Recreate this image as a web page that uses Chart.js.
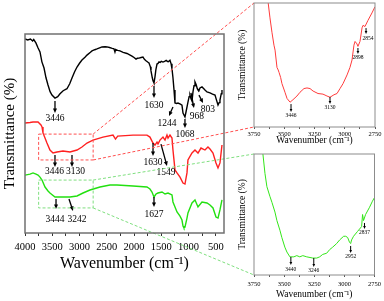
<!DOCTYPE html>
<html>
<head>
<meta charset="utf-8">
<script src="https://cdn.jsdelivr.net/npm/chart.js@4.4.1/dist/chart.umd.min.js"></script>
<style>
  html, body { margin: 0; padding: 0; background: #fff; }
  #wrap { position: relative; width: 384px; height: 301px; overflow: hidden; }
  canvas { position: absolute; }
</style>
</head>
<body>
<div id="wrap">
  <canvas id="main" width="384" height="301" style="left:0;top:0;width:384px;height:301px"></canvas>
  <canvas id="inset1" width="154" height="150" style="left:230px;top:0;width:154px;height:150px"></canvas>
  <canvas id="inset2" width="154" height="151" style="left:230px;top:150px;width:154px;height:151px"></canvas>
</div>
<script>
// ---------- data (wavenumber cm-1, transmittance, arbitrary offset units) ----------
const blackSpectrum = [[4000,97.5],[3950,97.0],[3900,97.5],[3860,96.5],[3840,97.2],[3800,95.5],[3760,93],[3725,91],[3690,86],[3651,82.9],[3615,78],[3578,74.4],[3540,71],[3505,69.3],[3450,67.8],[3400,68.5],[3358,70],[3300,71.5],[3230,72.5],[3180,75],[3138,77.9],[3090,81],[3046,83.4],[3000,85.3],[2955,86.9],[2900,88.3],[2863,89.4],[2800,90.8],[2771,91.5],[2720,92.1],[2680,92.5],[2620,93.2],[2588,93.5],[2530,93.6],[2496,93.5],[2450,93.2],[2400,92.8],[2368,92.6],[2350,91.0],[2338,92.2],[2300,91.8],[2258,91.5],[2200,90.8],[2129,90.2],[2080,89.5],[2038,88.9],[2000,88.2],[1964,87.4],[1940,87.8],[1909,87.9],[1870,88.2],[1836,88.4],[1810,87.3],[1781,86.6],[1750,85.9],[1726,85.4],[1700,83.5],[1689,81.5],[1665,78],[1652,76.5],[1634,75.4],[1616,78.5],[1600,82],[1579,84.9],[1560,85.2],[1542,86.0],[1520,85.7],[1500,86.3],[1469,85.9],[1440,86.2],[1410,86.7],[1396,86.4],[1370,86.1],[1341,86.8],[1320,85.0],[1304,82.5],[1286,78],[1267,71.9],[1249,65.3],[1220,65.1],[1194,65.3],[1150,64.8],[1121,64.3],[1102,60.3],[1066,58.3],[1047,60.8],[1011,65.8],[990,68.5],[974,69.3],[955,67.5],[937,66.3],[919,70.9],[900,74],[882,75.9],[860,74.5],[840,72.5],[827,71.9],[810,71.5],[791,72.9],[754,73.4],[720,72.5],[699,71.9],[662,70.9],[607,70.4],[560,69.8],[515,69.3],[490,67],[460,64.3],[440,65.5],[424,66.8],[400,70],[387,71.9]];

const redSpectrum = [[4000,55.3],[3908,55.5],[3853,55.8],[3761,55.8],[3707,54.3],[3688,53.3],[3670,50.3],[3633,47.7],[3597,45.2],[3542,41.7],[3486,40.2],[3413,40.7],[3303,41.2],[3175,40.7],[3046,41.7],[2955,43.2],[2863,45.2],[2753,46.7],[2570,48.2],[2386,49.2],[2340,47.2],[2300,48.7],[2019,49.2],[1763,49.2],[1708,48.2],[1671,46.2],[1652,45.2],[1616,44.2],[1579,45.7],[1561,44.7],[1524,46.7],[1469,48.2],[1432,46.7],[1396,49.2],[1377,47.7],[1341,49.2],[1304,47.7],[1286,41.7],[1249,31.7],[1212,30.2],[1157,28.1],[1102,25.1],[1066,24.6],[1029,30.2],[1011,36.7],[937,40.2],[882,41.7],[827,40.2],[772,42.7],[699,41.7],[644,43.2],[607,42.2],[552,40.2],[497,35.2],[460,32.7],[424,35.2],[387,44.2]];

const greenSpectrum = [[4000,29.1],[3908,29.6],[3853,30.2],[3798,29.6],[3761,29.1],[3725,28.1],[3688,26.6],[3633,23.1],[3578,21.1],[3542,20.1],[3450,18.1],[3303,18.1],[3175,18.1],[3046,18.6],[2936,20.1],[2808,21.6],[2625,23.1],[2441,24.1],[2313,24.1],[2019,23.6],[1763,23.1],[1708,22.1],[1671,20.6],[1634,18.1],[1597,19.6],[1561,20.1],[1487,20.6],[1432,19.6],[1377,20.1],[1304,19.1],[1286,15.6],[1212,10.6],[1157,8.5],[1121,6.5],[1102,3.5],[1084,2.5],[1066,3.0],[1029,7.5],[1011,10.1],[937,15.1],[882,16.6],[827,13.1],[754,15.6],[662,15.1],[607,14.1],[552,12.6],[497,8.0],[460,7.5],[424,11.6],[387,16.6]];

const redInset = [[3660,110],[3651,106],[3634,101],[3618,88],[3601,76],[3585,66],[3576,62],[3560,48],[3550,46],[3543,44],[3530,40],[3519,35],[3494,28],[3477,23],[3452,20],[3428,22],[3395,25],[3370,28],[3337,31],[3312,31.5],[3287,31],[3262,29],[3221,27],[3180,26.5],[3147,25],[3122,24],[3089,26],[3064,27],[3039,31],[3014,35],[2981,42],[2957,48],[2940,54],[2924,66],[2915,69],[2899,67],[2891,65],[2874,69],[2857,80],[2849,82],[2833,81],[2808,86],[2775,92],[2750,97]];

const greenInset = [[3684,112],[3676,100],[3659,84],[3643,73],[3618,65],[3601,60],[3576,52],[3560,45],[3535,37],[3519,31],[3494,23],[3477,19],[3452,15],[3419,15],[3395,16],[3370,15],[3345,16],[3312,15],[3262,14],[3229,14],[3205,15],[3180,17],[3147,18],[3122,21],[3097,23],[3064,26],[3039,29],[3006,32],[2989,32],[2973,31],[2957,27],[2948,26],[2940,29],[2924,32],[2891,36],[2857,40],[2849,50],[2841,45],[2824,50],[2791,56],[2767,61],[2750,64]];

const mainTicks = [4000,3750,3500,3250,3000,2750,2500,2250,2000,1750,1500,1250,1000,750,500];
const insetTicks = [3750,3625,3500,3375,3250,3125,3000,2875,2750];

// peak labels: text, arrow start [wn,T], arrow end [wn,T], label [wn,T]
const mainPeaks = [
  ['3446',[3450,66.3],[3450,60.3],[3450,57.3]],
  ['1630',[1634,73.9],[1634,67.8],[1634,64.3]],
  ['1244',[1286,63.3],[1359,58.8],[1396,54.8]],
  ['1068',[1066,57.3],[1066,52.8],[1066,49.7]],
  ['968',[956,70.4],[901,62.8],[846,58.3]],
  ['803',[809,69.3],[735,65.3],[644,62.3]],
  ['3446',[3450,39.2],[3450,33.2],[3460,30.7]],
  ['3130',[3138,39.2],[3138,33.2],[3075,30.7]],
  ['1630',[1652,45.2],[1652,38.7],[1652,35.2]],
  ['1549',[1506,44.7],[1396,33.7],[1414,30.2]],
  ['3444',[3431,17.1],[3431,12.1],[3450,7.0]],
  ['3242',[3193,17.1],[3120,11.1],[3046,7.0]],
  ['1627',[1634,18.1],[1634,13.1],[1634,9.5]]
];
const redInsetPeaks = [
  ['3446',[3444,18.5],[3444,12.1],[3444,8.9]],
  ['3130',[3122,24.2],[3122,18.5],[3122,15.3]],
  ['2898',[2891,63.7],[2891,58.9],[2891,55.6]],
  ['2854',[2824,79.8],[2824,75.0],[2808,71.0]]
];
const greenInsetPeaks = [
  ['3440',[3444,14.9],[3444,8.3],[3444,4.1]],
  ['3246',[3254,14.0],[3254,6.6],[3254,3.3]],
  ['2952',[2948,24.0],[2948,18.2],[2948,14.9]],
  ['2837',[2833,43.0],[2833,38.0],[2833,34.7]]
];
// zoomed regions of the main plot: wavenumber span and transmittance span
const redZoom = [3750, 2750, 36.7, 49.7];
const greenZoom = [3750, 2750, 12.6, 26.6];

// ---------- helpers ----------
const FONT = "'Liberation Serif', 'Times New Roman', serif";
const pts = a => a.map(([x, y]) => ({x, y}));

const framePlugin = {
  id: 'frame',
  afterDraw(chart, args, opts) {
    const {ctx, chartArea: a} = chart;
    ctx.save();
    ctx.strokeStyle = opts.color;
    ctx.lineWidth = opts.width;
    ctx.strokeRect(a.left, a.top, a.right - a.left, a.bottom - a.top);
    ctx.restore();
  }
};

const arrowPlugin = {
  id: 'arrows',
  afterDatasetsDraw(chart, args, opts) {
    const {ctx} = chart;
    const xs = chart.scales.x, ys = chart.scales.y;
    const items = opts.items || [];
    ctx.save();
    ctx.fillStyle = '#000';
    ctx.strokeStyle = '#000';
    ctx.lineWidth = opts.lw;
    ctx.font = opts.size + 'px ' + FONT;
    ctx.textAlign = 'center';
    ctx.textBaseline = 'middle';
    for (const it of items) {
      const [text, s, e, l] = it;
      const x0 = xs.getPixelForValue(s[0]), y0 = ys.getPixelForValue(s[1]);
      const x1 = xs.getPixelForValue(e[0]), y1 = ys.getPixelForValue(e[1]);
      const ang = Math.atan2(y1 - y0, x1 - x0), h = opts.head, c = Math.cos(ang), sn = Math.sin(ang);
      ctx.beginPath();
      ctx.moveTo(x0, y0);
      ctx.lineTo(x1 - h * 0.7 * c, y1 - h * 0.7 * sn);
      ctx.stroke();
      ctx.beginPath();
      ctx.moveTo(x1, y1);
      ctx.lineTo(x1 - h * c + h * 0.45 * sn, y1 - h * sn - h * 0.45 * c);
      ctx.lineTo(x1 - h * c - h * 0.45 * sn, y1 - h * sn + h * 0.45 * c);
      ctx.closePath();
      ctx.fill();
      ctx.fillText(text, xs.getPixelForValue(l[0]), ys.getPixelForValue(l[1]));
    }
    ctx.restore();
  }
};

function insetChart(id, data, color, peaks, pad, xh, yw, tickPad, titlePadB, ytitlePad) {
  return new Chart(document.getElementById(id), {
    type: 'line',
    data: { datasets: [{ data: pts(data), borderColor: color, borderWidth: 1, pointRadius: 0, tension: 0 }] },
    options: {
      responsive: false, animation: false, devicePixelRatio: 1,
      layout: { padding: pad },
      plugins: { legend: { display: false }, tooltip: { enabled: false },
                 frame: { color: '#8c8c8c', width: 1 },
                 arrows: { items: peaks, lw: 1, head: 3, size: 5.5 } },
      scales: {
        x: {
          type: 'linear', reverse: true, min: 2750, max: 3750,
          afterBuildTicks: s => { s.ticks = insetTicks.map(v => ({value: v})); },
          ticks: { autoSkip: false, maxRotation: 0, padding: tickPad, color: '#000',
                   font: { family: FONT, size: 6.5 },
                   callback: v => (v % 250 === 0 ? String(v) : '') },
          grid: { drawOnChartArea: false, drawTicks: true, tickLength: 2, color: '#555' },
          border: { display: false },
          title: { display: true, text: 'Wavenumber (cm⁻¹)', color: '#000',
                   font: { family: FONT, size: 9.5 }, padding: { top: 0, bottom: titlePadB } },
          afterFit: s => { s.height = xh; }
        },
        y: {
          min: 0, max: 100,
          ticks: { display: false },
          grid: { display: false },
          border: { display: false },
          title: { display: true, text: 'Transmittance (%)', color: '#000',
                   font: { family: FONT, size: 9.5 }, padding: { top: ytitlePad, bottom: 0 } },
          afterFit: s => { s.width = yw; }
        }
      }
    },
    plugins: [framePlugin, arrowPlugin]
  });
}

const inset1 = insetChart('inset1', redInset, '#ff3b3b', redInsetPeaks, { top: 3, right: 9, left: 0, bottom: 0 }, 23, 24, 1, 4, 7);
const inset2 = insetChart('inset2', greenInset, '#33e619', greenInsetPeaks, { top: 4, right: 9, left: 0, bottom: 0 }, 26, 24, 3, 1, 7);

const zoomPlugin = {
  id: 'zoomBoxes',
  afterDatasetsDraw(chart) {
    const {ctx} = chart;
    const xs = chart.scales.x, ys = chart.scales.y;
    const boxes = [[redZoom, inset1, '#ff5050'], [greenZoom, inset2, '#7fdf7f']];
    ctx.save();
    ctx.lineWidth = 1;
    ctx.setLineDash([3, 2]);
    for (const [z, ins, col] of boxes) {
      const l = xs.getPixelForValue(z[0]), r = xs.getPixelForValue(z[1]);
      const t = ys.getPixelForValue(z[3]), b = ys.getPixelForValue(z[2]);
      const ia = ins.chartArea, ox = ins.canvas.offsetLeft, oy = ins.canvas.offsetTop;
      ctx.strokeStyle = col;
      ctx.strokeRect(l, t, r - l, b - t);
      ctx.beginPath();
      ctx.moveTo(r, t); ctx.lineTo(ox + ia.left, oy + ia.top);
      ctx.moveTo(r, b); ctx.lineTo(ox + ia.left, oy + ia.bottom);
      ctx.stroke();
    }
    ctx.restore();
  }
};

new Chart(document.getElementById('main'), {
  type: 'line',
  data: { datasets: [
    { data: pts(blackSpectrum), borderColor: '#000', borderWidth: 1.4, pointRadius: 0, tension: 0 },
    { data: pts(redSpectrum), borderColor: '#ff2020', borderWidth: 1.4, pointRadius: 0, tension: 0 },
    { data: pts(greenSpectrum), borderColor: '#22e010', borderWidth: 1.4, pointRadius: 0, tension: 0 }
  ] },
  options: {
    responsive: false, animation: false, devicePixelRatio: 1,
    layout: { padding: { top: 34, right: 160, left: 0, bottom: 0 } },
    plugins: { legend: { display: false }, tooltip: { enabled: false },
               frame: { color: '#707070', width: 1.5 },
               arrows: { items: mainPeaks, lw: 1.3, head: 4.5, size: 9.5 } },
    scales: {
      x: {
        type: 'linear', reverse: true, min: 350, max: 4000,
        afterBuildTicks: s => { s.ticks = mainTicks.map(v => ({value: v})); },
        ticks: { autoSkip: false, maxRotation: 0, padding: 5, color: '#000',
                 font: { family: FONT, size: 10.5 },
                 callback: v => (v % 500 === 0 ? String(v) : '') },
        grid: { drawOnChartArea: false, drawTicks: true, tickLength: 3, color: '#333' },
        border: { display: false },
        title: { display: true, text: 'Wavenumber (cm⁻¹)', color: '#000',
                 font: { family: FONT, size: 16 }, padding: { top: 0, bottom: 28 } },
        afterFit: s => { s.height = 68; }
      },
      y: {
        min: 0, max: 100,
        ticks: { display: false },
        grid: { display: false },
        border: { display: false },
        title: { display: true, text: 'Transmittance (%)', color: '#000',
                 font: { family: FONT, size: 15 }, padding: { top: 1, bottom: 0 } },
        afterFit: s => { s.width = 25; }
      }
    }
  },
  plugins: [framePlugin, arrowPlugin, zoomPlugin]
});
</script>
</body>
</html>
